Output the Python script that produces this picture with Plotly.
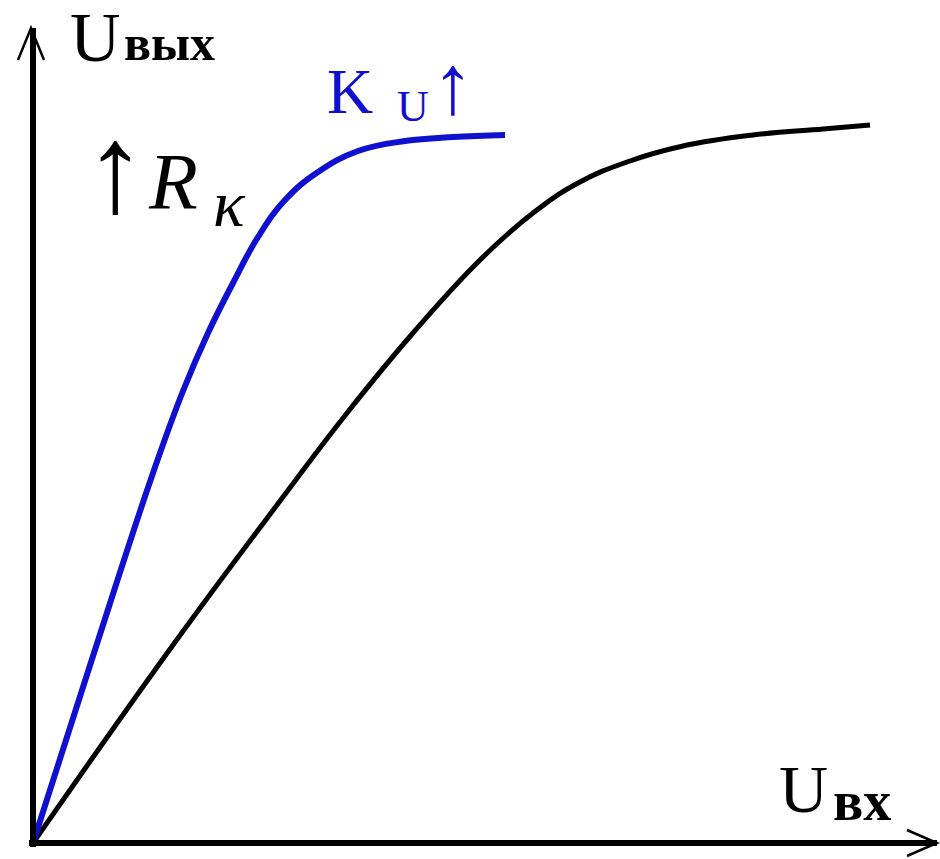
import plotly.graph_objects as go

# origin of the sketch sits at pixel (33, 843); values are measured from it
u_in_blue = [0, 60, 120, 150, 175, 200, 225, 252, 285, 325, 372, 420, 472]
u_out_blue = [0, 187, 370, 452, 510, 560, 606, 643, 671, 692, 702, 706, 708]

u_in_black = [0, 140, 250, 314, 380, 447, 500, 545, 594, 650, 720, 790, 837]
u_out_black = [0, 198, 346, 430, 510, 583, 630, 660, 681, 697, 708, 714, 718]

X_MAX = 904   # x-axis arrow tip
Y_MAX = 815   # y-axis arrow tip

SERIF = "Liberation Serif"
BLUE = "#1010d0"

fig = go.Figure()
fig.add_trace(go.Scatter(x=u_in_black, y=u_out_black, mode="lines",
                         line=dict(color="black", width=5, shape="spline", smoothing=1.2),
                         hoverinfo="skip"))
fig.add_trace(go.Scatter(x=u_in_blue, y=u_out_blue, mode="lines",
                         line=dict(color=BLUE, width=6, shape="spline", smoothing=1.2),
                         hoverinfo="skip"))

# axes with open arrow heads
shapes = [
    dict(type="line", x0=-4, y0=0, x1=X_MAX, y1=0, line=dict(color="black", width=6)),
    dict(type="line", x0=0, y0=-4, x1=0, y1=Y_MAX, line=dict(color="black", width=6)),
    dict(type="path", path=f"M {X_MAX-30},13 L {X_MAX},0 L {X_MAX-30},-13",
         line=dict(color="black", width=2.5)),
    dict(type="path", path=f"M -15,{Y_MAX-32} L -2,{Y_MAX} L 11,{Y_MAX-32}",
         line=dict(color="black", width=2.5)),
]

def ann(x, y, text, size, color="black", **kw):
    return dict(x=x, y=y, xref="x", yref="y", text=text, showarrow=False,
                font=dict(family=SERIF, size=size, color=color), **kw)

annotations = [
    ann(62, 806, "U", 70),
    ann(136, 800, "<b>вых</b>", 50),
    ann(317, 752, "K", 64, BLUE),
    ann(380, 737, "U", 44, BLUE),
    ann(420, 759, "↑", 84, BLUE),
    ann(82, 674, "↑", 125),
    ann(140, 661, "<i>R</i>", 80),
    ann(196, 640, "<i>κ</i>", 66),
    ann(770, 54, "U", 68),
    ann(829, 42, "<b>вх</b>", 56),
]

fig.update_layout(
    width=940, height=859,
    margin=dict(l=0, r=0, t=0, b=0),
    paper_bgcolor="white", plot_bgcolor="white",
    showlegend=False,
    xaxis=dict(range=[-33, 907], visible=False, fixedrange=True),
    yaxis=dict(range=[-16, 843], visible=False, fixedrange=True),
    shapes=shapes,
    annotations=annotations,
)

fig.write_html("out.html", config={"displayModeBar": False},
               post_script="document.body.style.margin='0';")
